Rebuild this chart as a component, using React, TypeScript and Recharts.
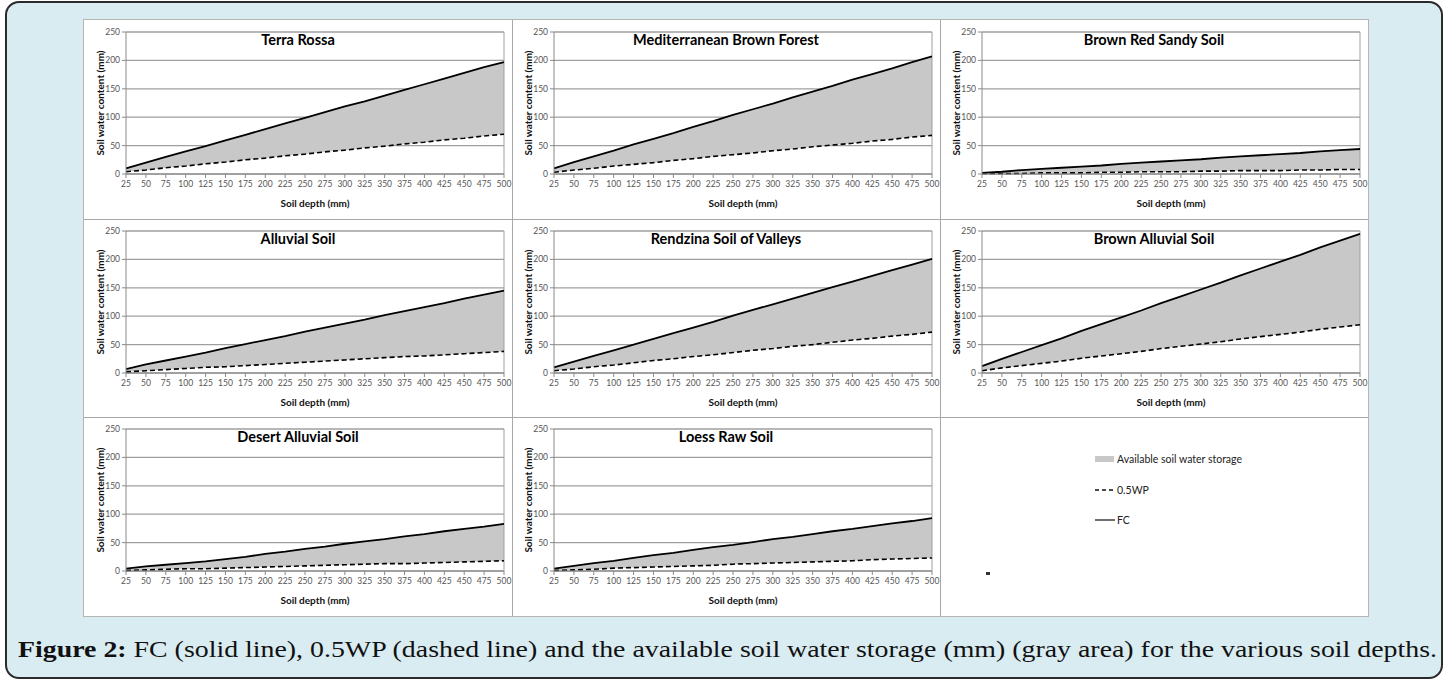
import { ComposedChart, Area, Line, XAxis, YAxis, CartesianGrid, ReferenceLine } from 'recharts';

// soil depth (mm) on the x axis, water content (mm) on the y axis
const DEPTHS = [25, 50, 75, 100, 125, 150, 175, 200, 225, 250, 275, 300, 325, 350, 375, 400, 425, 450, 475, 500];
const WATER_TICKS = [0, 50, 100, 150, 200, 250];

const TERRA_ROSSA_FC = [10, 20, 30, 40, 49, 59, 69, 79, 89, 99, 109, 119, 128, 138, 148, 158, 168, 178, 188, 197];
const TERRA_ROSSA_WP = [4, 7, 11, 14, 18, 21, 25, 28, 32, 35, 39, 42, 46, 49, 53, 56, 60, 63, 67, 70];

const MED_BROWN_FC = [10, 21, 31, 41, 52, 62, 72, 83, 93, 104, 114, 124, 135, 145, 155, 166, 176, 186, 197, 207];
const MED_BROWN_WP = [3, 7, 10, 14, 17, 20, 24, 27, 31, 34, 37, 41, 44, 48, 51, 54, 58, 61, 65, 68];

const BROWN_RED_FC = [2, 4, 7, 9, 11, 13, 15, 18, 20, 22, 24, 26, 29, 31, 33, 35, 37, 40, 42, 44];
const BROWN_RED_WP = [1, 1, 1, 2, 2, 2, 3, 3, 4, 4, 4, 5, 5, 6, 6, 6, 7, 7, 8, 8];

const ALLUVIAL_FC = [7, 15, 22, 29, 36, 44, 51, 58, 65, 73, 80, 87, 94, 102, 109, 116, 123, 131, 138, 145];
const ALLUVIAL_WP = [2, 4, 6, 8, 10, 11, 13, 15, 17, 19, 21, 23, 25, 27, 29, 30, 32, 34, 36, 38];

const RENDZINA_FC = [10, 20, 30, 40, 50, 60, 70, 80, 90, 101, 111, 121, 131, 141, 151, 161, 171, 181, 191, 201];
const RENDZINA_WP = [4, 7, 11, 14, 18, 22, 25, 29, 32, 36, 40, 43, 47, 50, 54, 58, 61, 65, 68, 72];

const BROWN_ALLUVIAL_FC = [12, 25, 37, 49, 61, 74, 86, 98, 110, 123, 135, 147, 159, 172, 184, 196, 208, 221, 233, 245];
const BROWN_ALLUVIAL_WP = [4, 9, 13, 17, 21, 26, 30, 34, 38, 43, 47, 51, 55, 60, 64, 68, 72, 77, 81, 85];

const DESERT_FC = [4, 8, 11, 14, 17, 21, 25, 30, 34, 39, 43, 48, 52, 56, 61, 65, 70, 74, 78, 83];
const DESERT_WP = [1, 2, 3, 4, 4, 5, 6, 7, 8, 9, 10, 11, 12, 13, 13, 14, 15, 16, 17, 18];

const LOESS_FC = [4, 9, 14, 18, 23, 28, 32, 37, 42, 46, 51, 56, 60, 65, 70, 74, 79, 84, 88, 93];
const LOESS_WP = [1, 2, 3, 5, 6, 7, 8, 9, 10, 12, 13, 14, 15, 16, 17, 18, 20, 21, 22, 23];

const SOILS = [
  { name: 'Terra Rossa', fc: TERRA_ROSSA_FC, wp: TERRA_ROSSA_WP },
  { name: 'Mediterranean Brown Forest', fc: MED_BROWN_FC, wp: MED_BROWN_WP },
  { name: 'Brown Red Sandy Soil', fc: BROWN_RED_FC, wp: BROWN_RED_WP },
  { name: 'Alluvial Soil', fc: ALLUVIAL_FC, wp: ALLUVIAL_WP },
  { name: 'Rendzina Soil of Valleys', fc: RENDZINA_FC, wp: RENDZINA_WP },
  { name: 'Brown Alluvial Soil', fc: BROWN_ALLUVIAL_FC, wp: BROWN_ALLUVIAL_WP },
  { name: 'Desert Alluvial Soil', fc: DESERT_FC, wp: DESERT_WP },
  { name: 'Loess Raw Soil', fc: LOESS_FC, wp: LOESS_WP },
];

const LEGEND_LABELS = ['Available soil water storage', '0.5WP', 'FC'];
const CAPTION_BOLD = 'Figure 2:';
const CAPTION_TEXT = ' FC (solid line), 0.5WP (dashed line) and the available soil water storage (mm) (gray area) for the various soil depths.';

const PANEL_W = 428;
const PANEL_H = 198;
const FONT = 'Lato, "Liberation Sans", sans-serif';
const GRAY_FILL = '#c8c8c8';
const GRID = '#9f9f9f';
const TICK = { fontSize: 8.5, fill: '#555', fontFamily: FONT };
const AXIS_TITLE = { fontSize: 10, fontWeight: 700, fill: '#111', fontFamily: FONT };

type SoilProps = { name: string; fc: number[]; wp: number[] };

function SoilChart({ name, fc, wp }: SoilProps) {
  const data = DEPTHS.map((depth, i) => ({ depth, fc: fc[i], wp: wp[i], band: [wp[i], fc[i]] }));
  return (
    <div style={{ position: 'relative', width: PANEL_W, height: PANEL_H }}>
      <ComposedChart width={PANEL_W} height={PANEL_H} data={data} margin={{ top: 12, right: 8, left: 0, bottom: 0 }}>
        <CartesianGrid vertical={false} stroke={GRID} strokeWidth={1.3} />
        <XAxis
          dataKey="depth"
          type="number"
          domain={[25, 500]}
          ticks={DEPTHS}
          interval={0}
          height={44}
          tick={TICK}
          tickSize={4}
          tickMargin={3}
          stroke="#8a8a8a"
          label={{ value: 'Soil depth (mm)', position: 'insideBottom', offset: 11, style: AXIS_TITLE }}
        />
        <YAxis
          type="number"
          domain={[0, 250]}
          ticks={WATER_TICKS}
          width={42}
          tick={TICK}
          tickSize={4}
          tickMargin={2}
          stroke="#8a8a8a"
          label={{ value: 'Soil water content (mm)', angle: -90, position: 'insideLeft', offset: 16, style: { ...AXIS_TITLE, textAnchor: 'middle' } }}
        />
        <ReferenceLine x={500} stroke={GRID} />
        <Area dataKey="band" type="linear" fill={GRAY_FILL} fillOpacity={1} stroke="none" isAnimationActive={false} />
        <Line dataKey="wp" type="linear" stroke="#000" strokeWidth={1.6} strokeDasharray="5 3" dot={false} isAnimationActive={false} />
        <Line dataKey="fc" type="linear" stroke="#000" strokeWidth={1.8} dot={false} isAnimationActive={false} />
      </ComposedChart>
      <div
        style={{
          position: 'absolute', left: 0, top: 12, width: PANEL_W, textAlign: 'center',
          fontFamily: FONT, fontWeight: 700, fontSize: 14.5, lineHeight: '16px', color: '#000',
        }}
      >
        {name}
      </div>
    </div>
  );
}

function LegendPanel() {
  const text = { fontSize: 10.5, fontFamily: FONT, fill: '#222' };
  return (
    <svg width={PANEL_W} height={PANEL_H}>
      <rect x={155} y={39} width={19} height={6} fill={GRAY_FILL} />
      <text x={177} y={46} {...text}>{LEGEND_LABELS[0]}</text>
      <line x1={155} x2={175} y1={73} y2={73} stroke="#111" strokeWidth={1.3} strokeDasharray="4 3" />
      <text x={177} y={77} {...text}>{LEGEND_LABELS[1]}</text>
      <line x1={155} x2={175} y1={103} y2={103} stroke="#222" strokeWidth={1.3} />
      <text x={177} y={107} {...text}>{LEGEND_LABELS[2]}</text>
      <rect x={46} y={155} width={4} height={3} fill="#333" />
    </svg>
  );
}

export default function App() {
  const cells = [...SOILS.map((s) => <SoilChart key={s.name} {...s} />), <LegendPanel key="legend" />];
  const rowTops = [0, 199, 397];
  return (
    <div style={{ position: 'absolute', left: 0, top: 0, width: 1447, height: 680, overflow: 'hidden', background: '#fff' }}>
      <div
        style={{
          position: 'absolute', left: 5, top: 1, width: 1438, height: 678, boxSizing: 'border-box',
          background: '#d9ecf1', border: '2px solid #2a2a2a', borderRadius: 14,
        }}
      />
      <div style={{ position: 'absolute', left: 83, top: 19, width: 1286, height: 598, boxSizing: 'border-box', background: '#fff', border: '1px solid #b5b5b5' }}>
        {cells.map((cell, i) => (
          <div key={i} style={{ position: 'absolute', left: (i % 3) * PANEL_W, top: rowTops[Math.floor(i / 3)], width: PANEL_W, height: PANEL_H }}>
            {cell}
          </div>
        ))}
        <div style={{ position: 'absolute', left: 428, top: 0, width: 1, height: 596, background: '#a8a8a8' }} />
        <div style={{ position: 'absolute', left: 856, top: 0, width: 1, height: 596, background: '#a8a8a8' }} />
        <div style={{ position: 'absolute', left: 0, top: 199, width: 1284, height: 1, background: '#a8a8a8' }} />
        <div style={{ position: 'absolute', left: 0, top: 397, width: 1284, height: 1, background: '#a8a8a8' }} />
      </div>
      <svg style={{ position: 'absolute', left: 0, top: 630 }} width={1447} height={50}>
        <text x={18} y={27} fontSize={23} fontFamily='"Liberation Serif", "DejaVu Serif", serif' fill="#111" textLength={1419} lengthAdjust="spacingAndGlyphs">
          <tspan fontWeight={700}>{CAPTION_BOLD}</tspan>
          <tspan>{CAPTION_TEXT}</tspan>
        </text>
      </svg>
    </div>
  );
}
